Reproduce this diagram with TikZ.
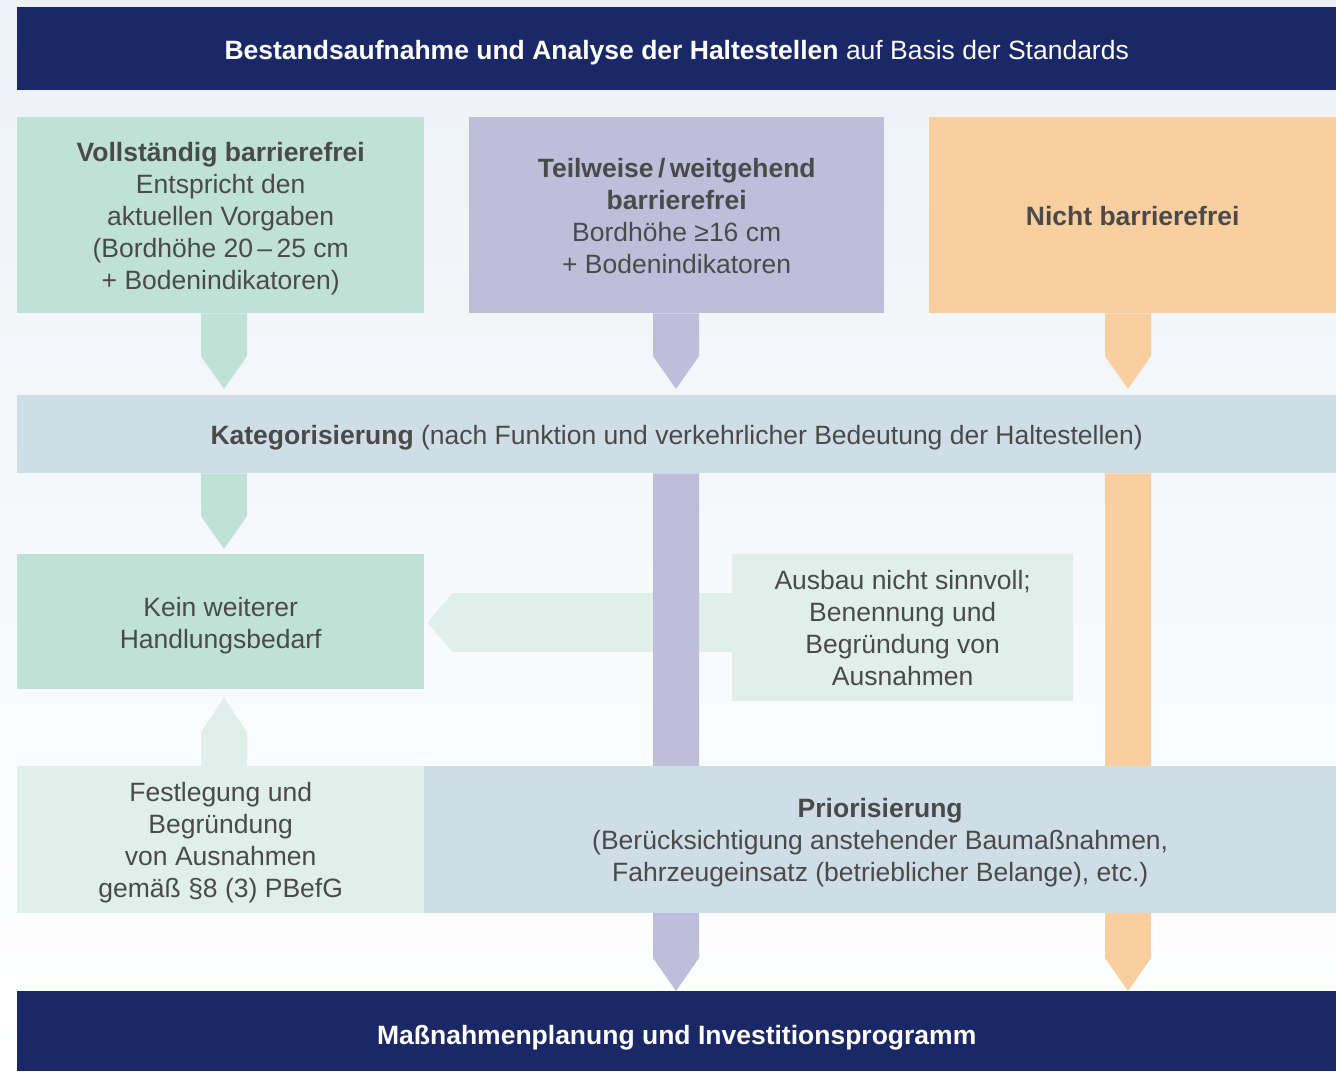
\documentclass[tikz,border=0pt]{standalone}
\usepackage{fontspec}
\setmainfont{Liberation Sans}
\usetikzlibrary{calc}
\pgfdeclarelayer{back}
\pgfdeclarelayer{bg}
\pgfsetlayers{back,bg,main}

\definecolor{navy}{HTML}{1B2868}
\definecolor{cgreen}{HTML}{C0E1D5}
\definecolor{cpurple}{HTML}{BEBEDB}
\definecolor{corange}{HTML}{F9CFA0}
\definecolor{cblue}{HTML}{CFDDE6}
\definecolor{clight}{HTML}{E1EFEA}
\definecolor{txt}{HTML}{4A4A4A}
\definecolor{bgtop}{HTML}{EDF2F7}

\tikzset{
  box/.style={draw=none, inner sep=0pt, anchor=north west},
  label text/.style={inner sep=0pt, align=center, text=txt,
    font=\fontsize{26.5}{32}\selectfont},
  bar text/.style={label text, text=white},
}

% #1 colour, #2 start coordinate, #3 tip coordinate, #4 half width, #5 tip length
\newcommand\blockarrow[5]{%
  \coordinate (tb) at ($(#3)!#5!(#2)$);
  \fill[#1] ($(#2)!#4!90:(#3)$) -- ($(tb)!#4!90:(#3)$) -- (#3)
    -- ($(tb)!#4!-90:(#3)$) -- ($(#2)!#4!-90:(#3)$) -- cycle;
}

\begin{document}
\begin{tikzpicture}[x=1pt,y=-1pt]
\useasboundingbox (0,0) rectangle (1336,1071);
\begin{pgfonlayer}{back}
  \shade[top color=bgtop, bottom color=white] (0,0) rectangle (1336,1071);
\end{pgfonlayer}

% boxes
\node[box, fill=navy, minimum width=1319pt, minimum height=83pt] (top) at (17,7) {};
\node[box, fill=cgreen, minimum width=407pt, minimum height=196pt] (g) at (17,117) {};
\node[box, fill=cpurple, minimum width=415pt, minimum height=196pt] (p) at (469,117) {};
\node[box, fill=corange, minimum width=407pt, minimum height=196pt] (o) at (929,117) {};
\node[box, fill=cblue, minimum width=1319pt, minimum height=78pt] (kat) at (17,395) {};
\node[box, fill=cgreen, minimum width=407pt, minimum height=135pt] (kein) at (17,554) {};
\node[box, fill=clight, minimum width=341pt, minimum height=147pt] (aus) at (732,554) {};
\node[box, fill=clight, minimum width=407pt, minimum height=147pt] (fest) at (17,766) {};
\node[box, fill=cblue, minimum width=912pt, minimum height=147pt] (prior) at (424,766) {};
\node[box, fill=navy, minimum width=1319pt, minimum height=80pt] (bot) at (17,991) {};

% texts
\node[bar text] (top-t) at ([yshift=-4pt]top.center)
  {\textbf{Bestandsaufnahme und Analyse der Haltestellen} auf Basis der Standards};
\node[label text] (g-t) at ([yshift=-3pt]g.center)
  {\textbf{Vollständig barrierefrei}\\Entspricht den\\aktuellen Vorgaben\\(Bordhöhe 20\,–\,25 cm\\+ Bodenindikatoren)};
\node[label text] (p-t) at ([yshift=-1pt]p.center)
  {\textbf{Teilweise\,/\,weitgehend}\\\textbf{barrierefrei}\\Bordhöhe ≥16 cm\\+ Bodenindikatoren};
\node[label text] (o-t) at ([yshift=-1pt]o.center)
  {\textbf{Nicht barrierefrei}};
\node[label text] (kat-t) at ([yshift=-4pt]kat.center)
  {\textbf{Kategorisierung} (nach Funktion und verkehrlicher Bedeutung der Haltestellen)};
\node[label text] (kein-t) at ([yshift=-4pt]kein.center)
  {Kein weiterer\\Handlungsbedarf};
\node[label text] (aus-t) at (aus.center)
  {Ausbau nicht sinnvoll;\\Benennung und\\Begründung von\\Ausnahmen};
\node[label text] (fest-t) at ([yshift=-3pt]fest.center)
  {Festlegung und\\Begründung\\von Ausnahmen\\gemäß §8 (3) PBefG};
\node[label text] (prior-t) at ([yshift=-3pt]prior.center)
  {\textbf{Priorisierung}\\(Berücksichtigung anstehender Baumaßnahmen,\\Fahrzeugeinsatz (betrieblicher Belange), etc.)};
\node[bar text] (bot-t) at ([yshift=-6pt]bot.center)
  {\textbf{Maßnahmenplanung und Investitionsprogramm}};

% arrow axes
\coordinate (ax1) at (224,0);
\coordinate (ax2) at (676,0);
\coordinate (ax3) at (1128,0);

\begin{pgfonlayer}{bg}
  \coordinate (t1) at ($(kat.north -| ax1)+(0,-6)$);
  \coordinate (t2) at ($(kat.north -| ax2)+(0,-6)$);
  \coordinate (t3) at ($(kat.north -| ax3)+(0,-6)$);
  \coordinate (t4) at ($(kein.north -| ax1)+(0,-5)$);
  \coordinate (t5) at ($(kein.east)+(3,1)$);
  \coordinate (s5) at ($(kein.east -| aus.center)+(0,1)$);
  \coordinate (t6) at ($(kein.south -| ax1)+(0,8)$);

  \blockarrow{cgreen}{g.south -| ax1}{t1}{23pt}{33pt}
  \blockarrow{cpurple}{p.south -| ax2}{t2}{23pt}{33pt}
  \blockarrow{corange}{o.south -| ax3}{t3}{23pt}{33pt}
  \blockarrow{cgreen}{kat.south -| ax1}{t4}{23pt}{33pt}
  \blockarrow{clight}{s5}{t5}{29.5pt}{25pt}
  \blockarrow{clight}{fest.north -| ax1}{t6}{23pt}{35pt}
  \blockarrow{cpurple}{kat.south -| ax2}{bot.north -| ax2}{23pt}{33pt}
  \blockarrow{corange}{kat.south -| ax3}{bot.north -| ax3}{23pt}{33pt}
\end{pgfonlayer}
\end{tikzpicture}
\end{document}
